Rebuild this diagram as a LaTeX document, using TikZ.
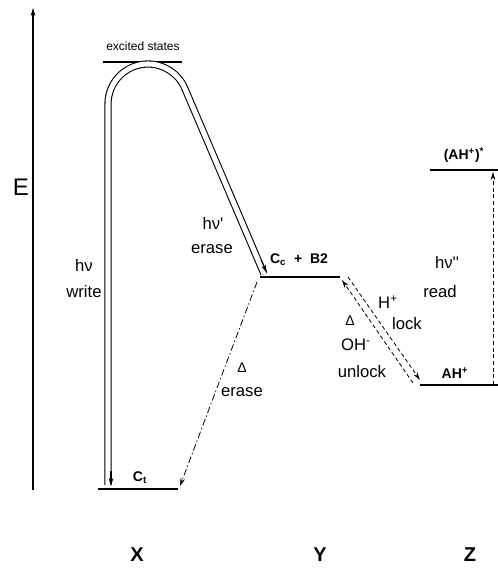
\documentclass[tikz,border=0pt]{standalone}
\usepackage{fontspec}
\setmainfont{Liberation Sans}
\usetikzlibrary{calc,arrows.meta}
\tikzset{
 en level/.style={line width=1.5pt},
 en label/.style={font=\fontsize{10.5}{12}\selectfont\bfseries,inner sep=1pt},
 en text/.style={font=\fontsize{12.5}{14}\selectfont,inner sep=1pt},
 en small/.style={font=\fontsize{9}{10}\selectfont,inner sep=1pt},
 en photon/.style={double=white,double distance=3.8pt,line width=0.8pt},
 en tip/.style={-{Stealth[length=6pt,width=3.5pt]},line width=0.8pt},
 en thermal/.style={en tip,line width=0.6pt,dash pattern=on 5pt off 2pt on 1pt off 2pt},
 en proton/.style={en tip,line width=0.6pt,dash pattern=on 3pt off 2pt},
 en site/.style={font=\fontsize{15}{17}\selectfont\bfseries,inner sep=1pt}
}
\begin{document}
\begin{tikzpicture}[x=0.75pt,y=0.75pt]
 \useasboundingbox (0,0) rectangle (498,583);
 \coordinate (axb) at (33,93);
 \coordinate (axt) at (33,575);
 \coordinate (exl) at (103,521);
 \coordinate (exr) at (182,521);
 \coordinate (ctl) at (98,94);
 \coordinate (ctr) at (178,94);
 \coordinate (ccl) at (260,306);
 \coordinate (ccr) at (340,306);
 \coordinate (ahl) at (420,198);
 \coordinate (ahr) at (498,198);
 \coordinate (asl) at (430,413);
 \coordinate (asr) at (498,413);
 \coordinate (wrs) at (108,98);
 \coordinate (ers) at (264,309);

 % energy axis and levels
 \draw[en tip] (axb) -- (axt);
 \node[font=\fontsize{18}{20}\selectfont,inner sep=1pt] (elab) at (21,396) {E};
 \foreach \l in {ex,ct,cc,ah,as} \draw[en level] (\l l) -- (\l r);
 \node[en small] (exlab) at (143,537) {excited states};
 \node[en label] (ctlab) at (140,105) {C\textsubscript{t}};
 \node[en label] (cclab) at (299,323) {C\textsubscript{c}\ \ +\ \ B2};
 \node[en label] (ahlab) at (455,210) {AH\textsuperscript{+}};
 \node[en label] (aslab) at (464,428) {(AH\textsuperscript{+})\textsuperscript{*}};

 % photochemical write / erase
 \draw[en photon] (wrs) -- (108,479) arc[start angle=180,end angle=23,radius=40] -- (ers);
 \draw[en tip] ($(wrs)+(3,14)$) -- ($(wrs)+(3,-1)$);
 \draw[en tip] ($(ers)+(-2.8,14)$) -- ($(ers)+(2.7,1.2)$);
 \node[en text] (hnw) at (84,318) {hν};
 \node[en text] (wlab) at (84,291) {write};
 \node[en text] (hne) at (213,360) {hν\textquotesingle};
 \node[en text] (elab1) at (212,334) {erase};

 % thermal erase
 \draw[en thermal] ($(ccl)+(-3,-5)$) -- ($(ctr)+(2,3)$);
 \node[font=\fontsize{10.5}{12}\selectfont,inner sep=1pt] (dlt1) at (242,215) {Δ};
 \node[en text] (elab2) at (242,191) {erase};

 % lock / unlock
 \draw[en proton] ($(ccr)+(8,0)$) -- ($(ahl)+(0,5)$);
 \draw[en proton] ($(ahl)+(-7,2)$) -- ($(ccr)+(2,-3)$);
 \node[en text] (hpl) at (388,281) {H\textsuperscript{+}};
 \node[en text] (lklab) at (407,259) {lock};
 \node[font=\fontsize{10.5}{12}\selectfont,inner sep=1pt] (dlt2) at (350,262) {Δ};
 \node[en text] (ohm) at (356,238) {OH\textsuperscript{-}};
 \node[en text] (uklab) at (362,211) {unlock};

 % read
 \draw[en proton,line width=0.4pt] ($(ahr)+(-5,0)$) -- ($(asr)+(-5,-2)$);
 \node[en text] (hnr) at (447,321) {hν\textquotesingle\textquotesingle};
 \node[en text] (rdlab) at (440,291) {read};

 \node[en site] (xlab) at (137,28) {X};
 \node[en site] (ylab) at (320,28) {Y};
 \node[en site] (zlab) at (470,28) {Z};
\end{tikzpicture}
\end{document}
